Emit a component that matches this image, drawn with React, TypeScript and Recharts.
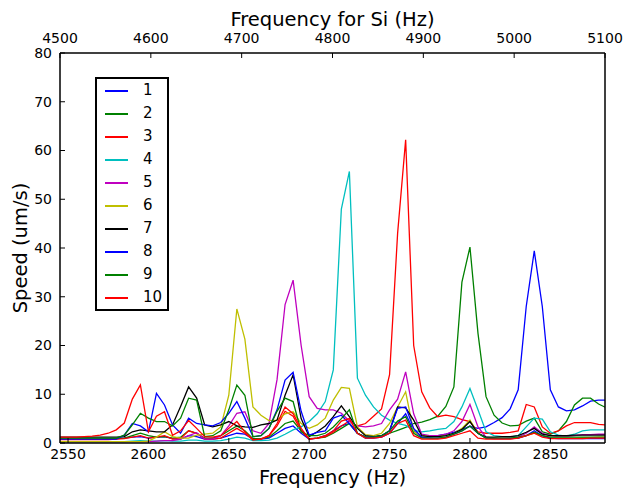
import { LineChart, Line, XAxis, YAxis, Legend } from 'recharts';

// frequency grid (Hz), 5 Hz steps
const freqs = [
  2545, 2550, 2555, 2560, 2565, 2570, 2575, 2580, 2585, 2590,
  2595, 2600, 2605, 2610, 2615, 2620, 2625, 2630, 2635, 2640,
  2645, 2650, 2655, 2660, 2665, 2670, 2675, 2680, 2685, 2690,
  2695, 2700, 2705, 2710, 2715, 2720, 2725, 2730, 2735, 2740,
  2745, 2750, 2755, 2760, 2765, 2770, 2775, 2780, 2785, 2790,
  2795, 2800, 2805, 2810, 2815, 2820, 2825, 2830, 2835, 2840,
  2845, 2850, 2855, 2860, 2865, 2870, 2875, 2880, 2885,
];

const s1 = [
  0.8, 0.8, 0.8, 0.8, 0.8, 0.8, 0.9, 0.9, 1.0, 1.2,
  1.3, 1.0, 1.2, 1.3, 0.9, 0.8, 1.5, 1.3, 0.8, 0.8,
  1.0, 1.5, 2.0, 1.8, 0.8, 0.8, 1.0, 2.0, 3.0, 3.5,
  2.0, 0.8, 1.0, 1.5, 2.5, 3.5, 4.0, 2.0, 1.0, 1.0,
  1.2, 2.0, 4.0, 6.0, 2.5, 1.2, 1.2, 1.5, 1.8, 2.2,
  2.8, 3.4, 3.0, 3.3, 4.2, 5.2, 7.0, 10.9, 28.0, 39.4,
  28.0, 10.9, 7.4, 6.6, 6.8, 7.6, 8.6, 8.8, 8.8,
];
const s2 = [
  0.8, 0.8, 0.8, 0.8, 0.8, 0.8, 0.8, 0.9, 1.0, 1.5,
  2.0, 1.5, 1.2, 1.3, 1.0, 1.2, 2.5, 2.0, 1.0, 1.0,
  1.5, 2.5, 3.5, 2.5, 0.9, 0.9, 1.2, 2.5, 4.0, 4.5,
  2.5, 0.9, 1.0, 1.2, 2.0, 3.0, 4.0, 2.0, 1.2, 1.2,
  1.5, 2.0, 2.6, 3.2, 4.0, 4.3, 4.8, 5.5, 7.5, 11.5,
  33.0, 40.2, 22.5, 9.5, 5.7, 4.1, 3.5, 3.6, 4.5, 5.1,
  2.3, 1.8, 2.5, 4.4, 7.8, 9.2, 9.2, 8.0, 7.2,
];
const s3 = [
  0.7, 0.7, 0.7, 0.7, 0.7, 0.7, 0.7, 0.8, 0.9, 1.2,
  1.5, 1.0, 1.2, 1.5, 0.8, 0.9, 2.5, 2.0, 0.8, 0.8,
  1.0, 2.0, 3.0, 2.0, 0.7, 0.8, 1.5, 3.5, 6.5, 5.5,
  2.5, 0.8, 1.0, 1.3, 2.2, 3.5, 4.5, 3.5, 4.0, 5.5,
  7.0, 14.0, 43.0, 62.2, 20.0, 10.5, 7.2, 5.4, 5.7, 5.4,
  4.8, 4.4, 2.3, 2.0, 2.0, 2.0, 2.2, 2.5, 7.9, 7.4,
  3.3, 2.0, 2.5, 3.5, 4.2, 4.2, 4.2, 3.8, 3.7,
];
const s4 = [
  0.3, 0.3, 0.3, 0.3, 0.3, 0.3, 0.3, 0.3, 0.3, 0.4,
  0.5, 0.4, 0.4, 0.5, 0.4, 0.4, 0.6, 0.6, 0.4, 0.4,
  0.5, 0.8, 1.2, 1.0, 0.5, 0.5, 0.6, 1.0, 1.8, 2.7,
  3.3, 4.4, 6.0, 8.5, 15.0, 48.0, 55.7, 13.3, 9.8, 7.4,
  5.7, 4.7, 4.0, 3.6, 2.6, 2.3, 2.5, 2.8, 3.0, 4.4,
  7.4, 11.2, 6.8, 2.3, 1.5, 1.3, 1.2, 1.5, 3.3, 5.1,
  4.9, 2.3, 1.6, 1.4, 1.8, 2.5, 2.7, 2.7, 2.7,
];
const s5 = [
  0.3, 0.3, 0.3, 0.3, 0.3, 0.3, 0.3, 0.3, 0.3, 0.3,
  0.3, 0.3, 0.4, 0.5, 0.5, 0.8, 1.5, 2.1, 0.8, 0.8,
  1.5, 3.5, 6.1, 6.4, 2.5, 2.0, 4.0, 13.0, 28.4, 33.4,
  20.0, 9.5, 7.1, 6.8, 6.8, 6.1, 4.5, 3.5, 3.3, 3.5,
  4.0, 6.8, 9.0, 14.6, 6.0, 1.8, 1.5, 1.5, 1.8, 2.5,
  4.4, 7.9, 3.3, 1.2, 1.0, 1.0, 1.0, 1.2, 2.0, 3.3,
  2.0, 1.5, 1.3, 1.3, 1.5, 1.7, 1.7, 1.8, 1.8,
];
const s6 = [
  0.3, 0.3, 0.3, 0.3, 0.3, 0.3, 0.3, 0.3, 0.3, 0.3,
  0.3, 0.4, 1.2, 2.3, 1.3, 1.0, 1.0, 1.6, 1.8, 2.0,
  3.3, 9.8, 27.5, 21.3, 7.4, 5.7, 4.6, 4.7, 6.0, 6.4,
  4.0, 3.0, 3.7, 5.1, 8.8, 11.4, 11.2, 3.3, 1.7, 1.5,
  2.0, 4.0, 7.4, 10.5, 2.3, 1.5, 1.3, 1.3, 1.5, 2.0,
  3.0, 4.7, 2.0, 1.0, 0.9, 0.9, 0.9, 1.0, 1.5, 2.0,
  1.5, 1.0, 1.0, 1.0, 1.0, 1.1, 1.1, 1.2, 1.2,
];
const s7 = [
  1.2, 1.2, 1.2, 1.2, 1.2, 1.2, 1.2, 1.2, 1.3, 2.3,
  2.7, 2.5, 2.3, 2.3, 3.7, 7.5, 11.5, 9.2, 3.7, 3.3,
  3.7, 4.4, 3.5, 3.3, 3.2, 3.7, 4.0, 4.7, 9.8, 14.0,
  5.0, 1.3, 2.3, 3.5, 5.4, 7.6, 5.4, 3.0, 1.5, 1.3,
  1.5, 2.5, 7.4, 7.2, 4.7, 1.5, 1.3, 1.3, 1.5, 2.0,
  2.8, 4.4, 2.0, 1.2, 1.2, 1.3, 1.3, 1.5, 2.2, 3.0,
  1.8, 1.5, 1.5, 1.5, 1.6, 1.6, 1.6, 1.6, 1.6,
];
const s8 = [
  0.8, 0.8, 0.8, 0.8, 0.8, 0.8, 0.8, 0.8, 1.6, 4.0,
  3.5, 2.3, 10.2, 7.8, 3.7, 2.0, 5.1, 4.0, 3.7, 3.5,
  4.2, 6.1, 8.5, 5.1, 1.3, 1.5, 3.0, 6.8, 12.9, 14.5,
  6.5, 1.6, 2.2, 2.5, 5.1, 5.7, 4.0, 2.0, 1.2, 1.2,
  1.5, 2.5, 7.1, 7.4, 3.0, 1.2, 1.0, 1.0, 1.2, 1.8,
  2.5, 3.5, 2.0, 1.0, 0.9, 0.9, 0.9, 1.0, 1.5, 2.5,
  1.5, 1.0, 0.9, 0.9, 0.9, 0.9, 0.9, 0.9, 0.9,
];
const s9 = [
  1.0, 1.0, 1.0, 1.0, 1.0, 1.0, 1.0, 1.0, 1.6, 3.7,
  6.1, 5.1, 4.4, 4.4, 3.5, 5.1, 9.2, 8.8, 1.3, 1.5,
  2.5, 6.8, 11.9, 9.8, 1.3, 1.5, 3.0, 6.5, 9.2, 8.5,
  2.3, 1.5, 1.5, 2.0, 3.3, 5.0, 6.8, 2.0, 1.2, 1.2,
  1.5, 2.5, 4.5, 5.4, 2.0, 1.0, 1.0, 1.0, 1.2, 1.8,
  2.5, 3.5, 2.0, 1.0, 1.0, 1.0, 1.0, 1.2, 1.5, 2.2,
  1.5, 1.2, 1.2, 1.2, 1.2, 1.2, 1.2, 1.2, 1.2,
];
const s10 = [
  1.2, 1.2, 1.2, 1.3, 1.4, 1.6, 2.0, 2.7, 4.1, 9.0,
  11.9, 2.3, 5.5, 6.4, 1.6, 2.5, 4.6, 3.0, 1.3, 1.2,
  1.5, 3.0, 4.4, 2.3, 0.6, 0.8, 1.5, 4.0, 7.4, 6.0,
  3.0, 0.8, 1.0, 1.5, 2.5, 4.5, 5.0, 2.0, 1.0, 1.0,
  1.2, 2.0, 4.0, 4.7, 1.5, 0.8, 0.8, 0.8, 1.0, 1.5,
  2.0, 2.5, 1.0, 0.8, 0.8, 0.8, 0.8, 1.0, 1.5, 2.0,
  1.2, 0.9, 0.9, 0.9, 0.9, 0.9, 1.0, 1.0, 1.0,
];

const seriesNames = ['1', '2', '3', '4', '5', '6', '7', '8', '9', '10'];
const seriesColors = [
  '#0000ff', '#008000', '#ff0000', '#00bfbf', '#bf00bf',
  '#bfbf00', '#000000', '#0000ff', '#008000', '#ff0000',
];
const allSeries = [s1, s2, s3, s4, s5, s6, s7, s8, s9, s10];

const freqTicks = [2550, 2600, 2650, 2700, 2750, 2800, 2850];
const siTicks = [4500, 4600, 4700, 4800, 4900, 5000, 5100];
const speedTicks = [0, 10, 20, 30, 40, 50, 60, 70, 80];

// x range shown, and the matching Si frequency range on the top axis
const F_MIN = 2545;
const F_MAX = 2884;
const SI_MIN = 4500;
const SI_MAX = 5100;

const data = freqs.map((f, i) => {
  const row: Record<string, number> = {
    f,
    si: SI_MIN + ((f - F_MIN) * (SI_MAX - SI_MIN)) / (F_MAX - F_MIN),
  };
  allSeries.forEach((s, k) => {
    row['s' + (k + 1)] = s[i];
  });
  return row;
});

const FONT = 'DejaVu Sans, sans-serif';
const tickStyle = { fill: '#000', fontSize: 14, fontFamily: FONT };
const axisLine = { stroke: '#000', strokeWidth: 1.5 };
const tickLine = { stroke: '#000', strokeWidth: 1 };

const LegendBox = () => (
  <div
    style={{
      border: '2px solid #000',
      background: '#fff',
      width: 70,
      fontFamily: FONT,
      fontSize: 15,
      color: '#000',
      lineHeight: '23px',
    }}
  >
    {seriesNames.map((name, k) => (
      <div key={name} style={{ position: 'relative', height: 23 }}>
        <div
          style={{
            position: 'absolute',
            left: 8,
            top: 11,
            width: 23,
            height: 2,
            background: seriesColors[k],
          }}
        />
        <span style={{ position: 'absolute', left: 46, top: 0 }}>{name}</span>
      </div>
    ))}
  </div>
);

const SpeedLabel = () => (
  <text
    x={20}
    y={248}
    transform="rotate(-90 20 248)"
    textAnchor="middle"
    dominantBaseline="central"
    fontSize={19.5}
    fontFamily={FONT}
    fill="#000"
  >
    Speed (um/s)
  </text>
);

export default function App() {
  return (
    <div style={{ position: 'absolute', left: 0, top: 0, background: '#fff' }}>
      <LineChart
        width={624}
        height={489}
        data={data}
        margin={{ top: 0, right: 0, bottom: 0, left: 0 }}
      >
        <XAxis
          dataKey="f"
          type="number"
          domain={[F_MIN, F_MAX]}
          allowDataOverflow
          ticks={freqTicks}
          height={46}
          tick={tickStyle}
          tickSize={-5}
          tickMargin={11}
          axisLine={axisLine}
          tickLine={tickLine}
          label={{
            value: 'Frequency (Hz)',
            position: 'insideBottom',
            offset: 5,
            fontSize: 19.5,
            fontFamily: FONT,
            fill: '#000',
          }}
        />
        <XAxis
          xAxisId="si"
          dataKey="si"
          orientation="top"
          type="number"
          domain={[SI_MIN, SI_MAX]}
          allowDataOverflow
          ticks={siTicks}
          height={53}
          tick={tickStyle}
          tickSize={-5}
          tickMargin={15}
          axisLine={axisLine}
          tickLine={tickLine}
          label={{
            value: 'Frequency for Si (Hz)',
            position: 'insideTop',
            offset: 12,
            fontSize: 19.5,
            fontFamily: FONT,
            fill: '#000',
          }}
        />
        <YAxis
          type="number"
          domain={[0, 80]}
          ticks={speedTicks}
          width={60}
          tick={tickStyle}
          tickSize={-5}
          tickMargin={13}
          axisLine={axisLine}
          tickLine={tickLine}
          label={<SpeedLabel />}
        />
        <YAxis
          yAxisId="right"
          orientation="right"
          type="number"
          domain={[0, 80]}
          ticks={speedTicks}
          width={19}
          tick={false}
          tickSize={-5}
          axisLine={axisLine}
          tickLine={tickLine}
        />
        <Legend
          layout="vertical"
          align="center"
          verticalAlign="middle"
          content={<LegendBox />}
          wrapperStyle={{ left: 95, top: 77, width: 74, height: 'auto' }}
        />
        {/* invisible carrier so the top and right axes get a scale */}
        <Line
          xAxisId="si"
          yAxisId="right"
          dataKey="s1"
          stroke="none"
          dot={false}
          activeDot={false}
          legendType="none"
          isAnimationActive={false}
        />
        {allSeries.map((_, k) => (
          <Line
            key={k}
            type="linear"
            dataKey={'s' + (k + 1)}
            name={seriesNames[k]}
            stroke={seriesColors[k]}
            strokeWidth={1.3}
            dot={false}
            activeDot={false}
            isAnimationActive={false}
          />
        ))}
      </LineChart>
    </div>
  );
}
